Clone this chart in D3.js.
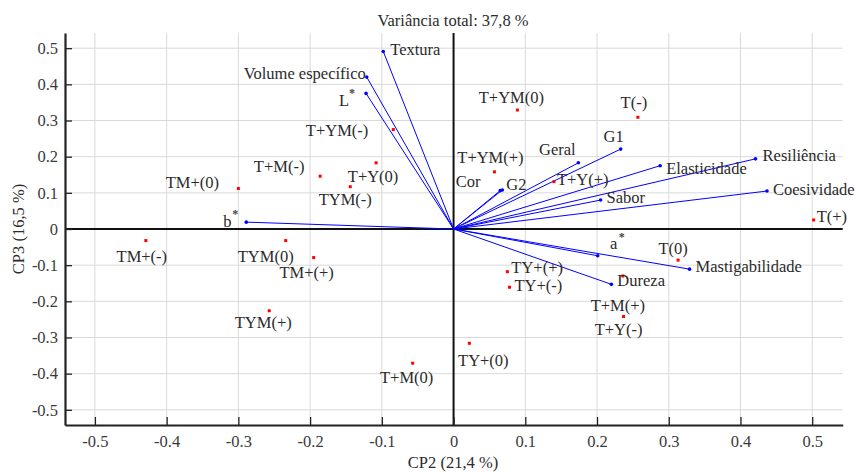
<!DOCTYPE html>
<html>
<head>
<meta charset="utf-8">
<script src="https://cdn.jsdelivr.net/npm/d3@7.9.0/dist/d3.min.js"></script>
<style>
  html, body { margin: 0; padding: 0; background: #fff; }
  svg { display: block; font-family: "Liberation Serif", "Times New Roman", serif; }
  .grid line { stroke: #d9d9d9; stroke-width: 1; }
  .lbl { font-size: 16.5px; fill: #2b2b2b; }
  .star { font-size: 12px; fill: #444; font-weight: bold; }
  .tick text { font-size: 16.5px; fill: #3a3a3a; font-family: "Liberation Serif", "Times New Roman", serif; }
</style>
</head>
<body>
<svg id="pca" width="859" height="474"></svg>
<script>
// treatments (red points): CP2, CP3 scores
const sampleNames = ['T+YM(0)', 'T+YM(-)', 'T(-)', 'T+M(-)', 'T+Y(0)', 'TYM(-)', 'TM+(0)',
  'TM+(-)', 'TYM(0)', 'TM+(+)', 'TYM(+)', 'T+M(0)', 'TY+(0)', 'TY+(+)', 'TY+(-)',
  'T+YM(+)', 'T+Y(+)', 'T(+)', 'T(0)', 'T+M(+)', 'T+Y(-)'];
const sampleCP2 = [0.089, -0.084, 0.257, -0.186, -0.108, -0.144, -0.300,
  -0.429, -0.234, -0.195, -0.257, -0.057, 0.022, 0.075, 0.078,
  0.057, 0.140, 0.502, 0.313, 0.236, 0.237];
const sampleCP3 = [0.329, 0.275, 0.309, 0.146, 0.183, 0.117, 0.112,
  -0.032, -0.032, -0.079, -0.226, -0.371, -0.316, -0.118, -0.161,
  0.158, 0.131, 0.025, -0.086, -0.130, -0.242];

// variables (blue loadings)
const varNames = ['Textura', 'Volume específico', 'L*', 'b*', 'Cor', 'G2', 'Geral', 'G1',
  'Resiliência', 'Elasticidade', 'Coesividade', 'Sabor', 'a*', 'Mastigabilidade', 'Dureza'];
const varCP2 = [-0.098, -0.121, -0.122, -0.289, 0.065, 0.068, 0.174, 0.233,
  0.421, 0.288, 0.437, 0.205, 0.201, 0.329, 0.220];
const varCP3 = [0.491, 0.420, 0.375, 0.019, 0.106, 0.108, 0.183, 0.221,
  0.194, 0.175, 0.105, 0.080, -0.074, -0.111, -0.153];

const tickValues = [-0.5, -0.4, -0.3, -0.2, -0.1, 0, 0.1, 0.2, 0.3, 0.4, 0.5];
const titleText = 'Variância total: 37,8 %';
const xTitle = 'CP2 (21,4 %)';
const yTitle = 'CP3 (16,5 %)';

// label placement (anchor, dx, dy from the mark, in px)
const sampleLabelPos = [
  ['middle', -6, -13], ['end', -25, 1], ['middle', -4, -15], ['middle', -41, -10],
  ['middle', -3, 14], ['middle', -5, 13], ['middle', -46, -6], ['middle', -4, 16],
  ['middle', -20, 16], ['middle', -7, 15], ['middle', -6, 12], ['middle', -6, 14],
  ['middle', 14, 17], ['start', 4, -4], ['start', 5, -2], ['middle', -4, -14],
  ['start', 3, -2], ['start', 3, -3], ['middle', -5, -12], ['middle', -5, 29],
  ['middle', -5, 13]];
const varLabelPos = [
  ['start', 7, -2], ['end', -1, -4], ['middle', -22, 7], ['middle', -19, -1],
  ['middle', -32, -9], ['start', 4, -5], ['middle', -21, -13], ['middle', -7, -13],
  ['start', 7, -3], ['start', 6, 3], ['start', 6, -2], ['start', 6, -3],
  ['middle', 16, -12], ['start', 6, -3], ['start', 6, -4]];

function drawChart() {
  const svg = d3.select('#pca');
  const left = 65, right = 842.7, top = 33, bottom = 425;

  const x = d3.scaleLinear().domain([-0.5417, 0.5425]).range([left, right]);
  const y = d3.scaleLinear().domain([-0.542, 0.542]).range([bottom, top]);
  const fmt = (d) => (d === 0 ? '0' : d.toFixed(1));

  // grid
  const grid = svg.append('g').attr('class', 'grid');
  grid.selectAll('.gx').data(tickValues).join('line')
    .attr('x1', (d) => x(d)).attr('x2', (d) => x(d))
    .attr('y1', top).attr('y2', bottom);
  grid.selectAll('.gy').data(tickValues).join('line')
    .attr('class', 'gy')
    .attr('x1', left).attr('x2', right)
    .attr('y1', (d) => y(d)).attr('y2', (d) => y(d));

  // zero lines
  svg.append('line').attr('x1', x(0)).attr('x2', x(0)).attr('y1', top).attr('y2', bottom)
    .attr('stroke', '#111').attr('stroke-width', 2);
  svg.append('line').attr('x1', left).attr('x2', right).attr('y1', y(0)).attr('y2', y(0))
    .attr('stroke', '#111').attr('stroke-width', 2);

  // axes, ticks pointing inward
  const xAxis = svg.append('g').attr('transform', `translate(0,${bottom})`)
    .call(d3.axisBottom(x).tickValues(tickValues).tickFormat(fmt)
      .tickSizeInner(-8).tickSizeOuter(0).tickPadding(10));
  const yAxis = svg.append('g').attr('transform', `translate(${left},0)`)
    .call(d3.axisLeft(y).tickValues(tickValues).tickFormat(fmt)
      .tickSizeInner(-7).tickSizeOuter(0).tickPadding(7));
  [xAxis, yAxis].forEach((g) => {
    g.select('.domain').attr('stroke', '#222').attr('stroke-width', 2.2);
    g.selectAll('.tick line').attr('stroke', '#222').attr('stroke-width', 1.3);
  });
  xAxis.selectAll('.tick text').attr('dy', '0.71em');

  // loadings
  const vars = varNames.map((name, i) => ({ name, cx: varCP2[i], cy: varCP3[i], pos: varLabelPos[i] }));
  svg.append('g').selectAll('line').data(vars).join('line')
    .attr('x1', x(0)).attr('y1', y(0))
    .attr('x2', (d) => x(d.cx)).attr('y2', (d) => y(d.cy))
    .attr('stroke', '#0000ff').attr('stroke-width', 1);
  svg.append('g').selectAll('circle').data(vars).join('circle')
    .attr('cx', (d) => x(d.cx)).attr('cy', (d) => y(d.cy)).attr('r', 1.8)
    .attr('fill', '#0000ff');

  // scores
  const samples = sampleNames.map((name, i) => ({ name, cx: sampleCP2[i], cy: sampleCP3[i], pos: sampleLabelPos[i] }));
  svg.append('g').selectAll('rect').data(samples).join('rect')
    .attr('x', (d) => x(d.cx) - 1.5).attr('y', (d) => y(d.cy) - 1.5)
    .attr('width', 3).attr('height', 3).attr('fill', '#ff0000');

  // labels
  const addLabel = (d) => {
    const [anchor, dx, dy] = d.pos;
    const star = d.name.endsWith('*');
    const base = star ? d.name.slice(0, -1) : d.name;
    const lx = x(d.cx) + dx, ly = y(d.cy) + dy;
    svg.append('text').attr('class', 'lbl')
      .attr('x', lx).attr('y', ly)
      .attr('text-anchor', anchor).attr('dominant-baseline', 'central')
      .text(base);
    if (star) {
      svg.append('text').attr('class', 'star')
        .attr('x', lx + 8).attr('y', ly - 7)
        .attr('text-anchor', 'middle').attr('dominant-baseline', 'central')
        .text('*');
    }
  };
  vars.forEach(addLabel);
  samples.forEach(addLabel);

  // titles
  svg.append('text').attr('class', 'lbl').attr('x', 453).attr('y', 20)
    .attr('text-anchor', 'middle').attr('dominant-baseline', 'central').text(titleText);
  svg.append('text').attr('class', 'lbl').attr('x', 453).attr('y', 462)
    .attr('text-anchor', 'middle').attr('dominant-baseline', 'central').text(xTitle);
  svg.append('text').attr('class', 'lbl')
    .attr('transform', 'translate(18,229) rotate(-90)')
    .attr('text-anchor', 'middle').attr('dominant-baseline', 'central').text(yTitle);
}

drawChart();
</script>
</body>
</html>
